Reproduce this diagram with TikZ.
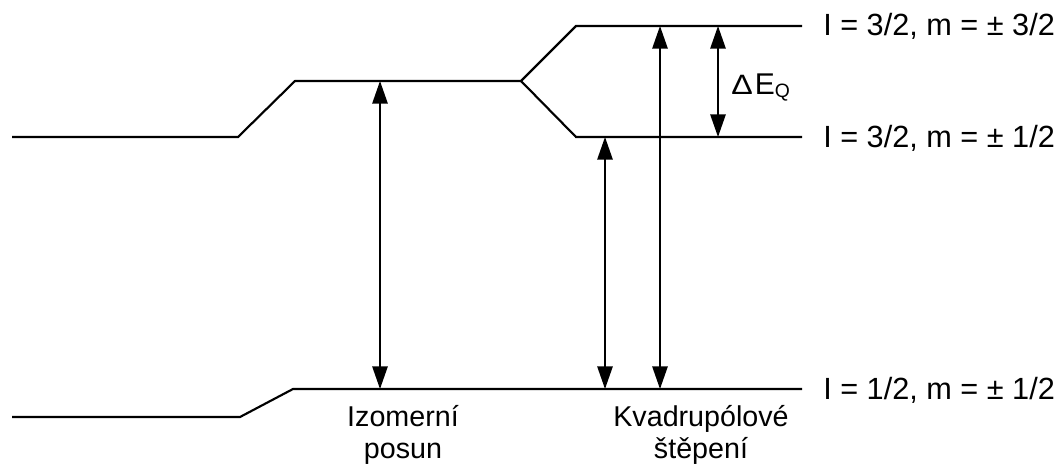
\documentclass[tikz,border=0pt]{standalone}
\usepackage{fontspec}
\setmainfont{Liberation Sans}
\usetikzlibrary{arrows.meta}
\tikzset{
  levelline/.style={line width=1.6pt, line join=miter},
  dblarrow/.style={line width=1.3pt, {Triangle[length=17pt,width=11.5pt]}-{Triangle[length=17pt,width=11.5pt]}},
  levellab/.style={anchor=base west, inner sep=0pt, font=\fontsize{23}{26}\selectfont},
  bottomlab/.style={align=center, inner sep=0pt, anchor=base, font=\fontsize{21.5}{23.5}\selectfont}
}
\begin{document}
\begin{tikzpicture}[x=0.75pt,y=-0.75pt]
\useasboundingbox (0,0) rectangle (1063,467);
% upper levels
\coordinate (ua) at (12,137);
\coordinate (ub) at (238,137);
\coordinate (uc) at (295,81);
\coordinate (ud) at (521,81);
\coordinate (ue) at (576,26);
\coordinate (uf) at (802,26);
\coordinate (ug) at (576,137);
\coordinate (uh) at (802,137);
\draw[levelline] (ua) -- (ub) -- (uc) -- (ud) -- (ue) -- (uf);
\draw[levelline] (ud) -- (ug) -- (uh);
% lower levels
\coordinate (la) at (12,417);
\coordinate (lb) at (240,417);
\coordinate (lc) at (293,389);
\coordinate (ld) at (802,389);
\draw[levelline] (la) -- (lb) -- (lc) -- (ld);
% arrows
\coordinate (i1) at (380,81);  \coordinate (i2) at (380,389);
\coordinate (q1) at (605,137); \coordinate (q2) at (605,389);
\coordinate (r1) at (660,26);  \coordinate (r2) at (660,389);
\coordinate (e1) at (718,26);  \coordinate (e2) at (718,137);
\draw[dblarrow] (i1) -- (i2);
\draw[dblarrow] (q1) -- (q2);
\draw[dblarrow] (r1) -- (r2);
\draw[dblarrow] (e1) -- (e2);
% labels
\node[levellab] (t1) at (823,36) {I = 3/2, m = ± 3/2};
\node[levellab] (t2) at (823,147) {I = 3/2, m = ± 1/2};
\node[levellab] (t3) at (823,399) {I = 1/2, m = ± 1/2};
\node[anchor=base west, inner sep=0pt, font=\fontsize{22.5}{24}\selectfont] (dq) at (731,94)
  {\scalebox{1.15}[1]{\fontsize{21}{22}\selectfont Δ}\hspace{1.5pt}E\raisebox{-2.3pt}{\fontsize{14.5}{15}\selectfont Q}};
\node[bottomlab] (iz) at (403,458) {Izomerní\\posun};
\node[bottomlab] (kv) at (701,458) {Kvadrupólové\\štěpení};
\end{tikzpicture}
\end{document}
